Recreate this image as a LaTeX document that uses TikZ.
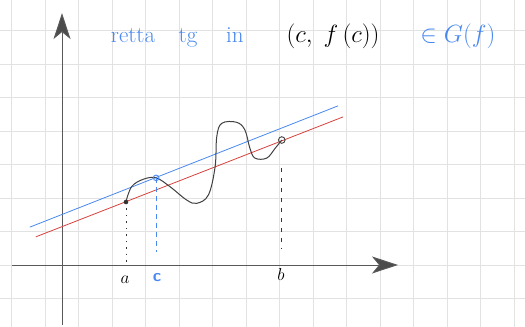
\documentclass[tikz,border=0pt]{standalone}
\usetikzlibrary{arrows.meta}
\definecolor{tgblue}{RGB}{72,136,240}
\definecolor{secred}{RGB}{214,66,60}
\definecolor{gridgray}{RGB}{226,226,226}

\begin{document}
\begin{tikzpicture}[x=33.5pt,y=33.5pt,
    axis/.style={draw=black!65,line width=0.9pt,
        -{Stealth[length=26pt,width=17pt,inset=7pt,fill=black!70]}},
    hand/.style={font=\fontsize{23}{27}\selectfont,inner sep=0pt,anchor=base}]
    \useasboundingbox (-1.851,-1.851) rectangle (13.821,7.910);
    \foreach \x in {-1.5,-0.5,...,13.5} {
        \draw[gridgray,line width=0.7pt] (\x,-1.851) -- (\x,7.910);
    }
    \foreach \y in {-1,0,...,7} {
        \draw[gridgray,line width=0.7pt] (-1.851,\y) -- (13.821,\y);
    }
    \draw[axis] (-1.49,0) -- (10.03,0);
    \draw[axis] (0,-1.79) -- (0,7.52);

    \coordinate (a) at (1.91,1.88);
    \coordinate (c) at (2.81,2.60);
    \coordinate (b) at (6.56,3.73);
    \coordinate (afoot) at (1.91,0);
    \coordinate (cfoot) at (2.81,0.39);
    \coordinate (btop) at (6.54,2.90);
    \coordinate (bfoot) at (6.54,0.51);

    \draw[tgblue,line width=0.8pt] (-0.96,1.13) -- (8.24,4.75);
    \draw[secred,line width=0.8pt] (-0.78,0.84) -- (8.39,4.42);
    \draw[black!75,line width=1pt] plot[smooth,tension=0.6] coordinates {
        (1.91,1.89) (2.08,2.34) (2.43,2.56) (2.81,2.60) (3.22,2.34) (3.72,1.94)
        (4.02,1.84) (4.37,2.09) (4.57,2.93) (4.62,3.83) (4.77,4.23) (5.21,4.26)
        (5.46,4.03) (5.61,3.48) (5.76,3.19) (6.11,3.19) (6.36,3.48) (6.56,3.73)};

    \draw[black!80,line width=0.9pt,dash pattern=on 1.5pt off 5pt] (a) -- (afoot);
    \draw[tgblue,line width=0.9pt,dash pattern=on 5pt off 4pt] (c) -- (cfoot);
    \draw[black!80,line width=0.9pt,dash pattern=on 4pt off 6pt] (btop) -- (bfoot);
    \fill[black!80] (a) circle (2.3pt);
    \draw[tgblue,line width=0.9pt] (c) circle (2.8pt);
    \draw[black!75,line width=0.9pt] (b) circle (3.3pt);

    \node[hand,font=\fontsize{18}{20}\selectfont] (la) at (1.88,-0.55) {$a$};
    \node[hand,font=\fontsize{17}{20}\selectfont\bfseries\sffamily,tgblue] (lc) at (2.84,-0.48) {c};
    \node[hand,font=\fontsize{18}{20}\selectfont] (lb) at (6.54,-0.46) {$b$};

    \node[hand,tgblue] (retta) at (2.12,6.63) {retta};
    \node[hand,tgblue] (tg) at (3.76,6.63) {tg};
    \node[hand,tgblue] (in) at (5.16,6.63) {in};
    \node[hand] (point) at (8.09,6.63) {$\Bigl(c,\;f\,(c)\Bigr)$};
    \node[hand,tgblue] (graph) at (11.82,6.63) {$\in G(f)$};
\end{tikzpicture}
\end{document}
